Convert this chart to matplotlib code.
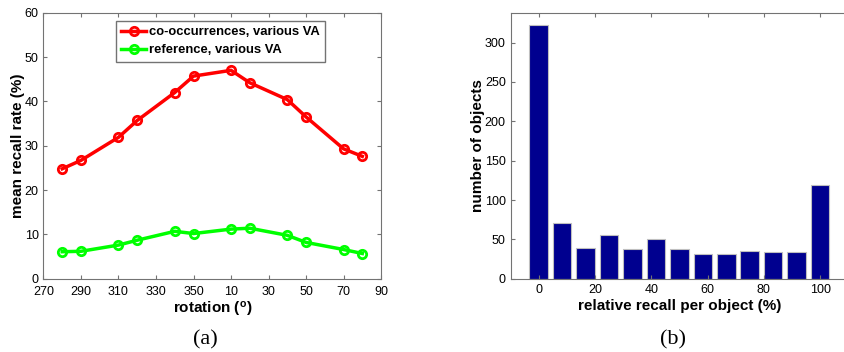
import numpy as np
import matplotlib
matplotlib.use("Agg")
import matplotlib.pyplot as plt

plt.rcParams["font.family"] = ["Liberation Sans", "DejaVu Sans"]
plt.rcParams["mathtext.fontset"] = "custom"
plt.rcParams["mathtext.bf"] = "Liberation Sans:bold"
plt.rcParams["mathtext.rm"] = "Liberation Sans"

# (a) mean recall rate vs rotation
rotation = [280, 290, 310, 320, 340, 350, 10, 20, 40, 50, 70, 80]
cooc = [24.8, 26.7, 31.9, 35.7, 42.0, 45.7, 47.0, 44.2, 40.4, 36.5, 29.3, 27.6]
reference = [6.1, 6.2, 7.6, 8.7, 10.7, 10.2, 11.2, 11.4, 9.8, 8.2, 6.6, 5.7]
rot_ticks = [270, 290, 310, 330, 350, 10, 30, 50, 70, 90]

# (b) histogram of relative recall per object
recall_bins = [0, 8.33, 16.67, 25, 33.33, 41.67, 50, 58.33, 66.67, 75, 83.33, 91.67, 100]
n_objects = [322, 71, 39, 55, 38, 51, 38, 31, 32, 35, 34, 34, 119]


def unwrap(deg):
    # rotation axis runs 270 -> 360 -> 90
    return [(d - 270) % 360 for d in deg]


fig = plt.figure(figsize=(8.44, 3.52), dpi=100)
axc = "0.45"

ax1 = fig.add_axes([0.0515, 0.208, 0.40, 0.756])
x = unwrap(rotation)
ax1.plot(x, cooc, color=(1, 0, 0), lw=2.5, marker="o", ms=6, mfc="none", mew=2,
         label="co-occurrences, various VA")
ax1.plot(x, reference, color=(0, 1, 0), lw=2.5, marker="o", ms=6, mfc="none", mew=2,
         label="reference, various VA")
ax1.set_xlim(0, 180)
ax1.set_ylim(0, 60)
ax1.set_xticks(unwrap(rot_ticks[:-1]) + [180])
ax1.set_xticklabels([str(t) for t in rot_ticks])
ax1.set_yticks(range(0, 61, 10))
ax1.set_xlabel(r"rotation ($\mathbf{^o}$)", fontsize=11, fontweight="bold", labelpad=1)
ax1.set_ylabel("mean recall rate (%)", fontsize=11, fontweight="bold", labelpad=0)
leg = ax1.legend(loc="upper left", bbox_to_anchor=(0.215, 0.969), borderaxespad=0,
                 fontsize=9.4, handlelength=1.9, handletextpad=0.2, borderpad=0.4,
                 labelspacing=0.45, fancybox=False, framealpha=1)
leg.get_frame().set_edgecolor(axc)
for t in leg.get_texts():
    t.set_fontweight("bold")

ax2 = fig.add_axes([0.605, 0.208, 0.40, 0.756])
ax2.bar(recall_bins, n_objects, width=6.6, color=(0, 0, 0.5625), edgecolor="0.75", lw=0.8)
ax2.set_xlim(-10, 110)
ax2.set_ylim(0, 338)
ax2.set_xticks(range(0, 101, 20))
ax2.set_yticks(range(0, 301, 50))
ax2.set_xlabel("relative recall per object (%)", fontsize=11, fontweight="bold", labelpad=2)
ax2.set_ylabel("number of objects", fontsize=11, fontweight="bold", labelpad=0)

for ax in (ax1, ax2):
    for s in ax.spines.values():
        s.set_color(axc)
        s.set_linewidth(0.8)
    ax.tick_params(direction="in", length=3, width=0.8, color=axc, labelsize=9,
                   top=True, right=True)
ax1.tick_params(axis="x", pad=5.5)
ax2.tick_params(axis="x", pad=4)

fig.text(0.243, 0.02, "(a)", fontsize=16, family="Liberation Serif", ha="center")
fig.text(0.797, 0.02, "(b)", fontsize=16, family="Liberation Serif", ha="center")

fig.savefig("out.png", dpi=100)
